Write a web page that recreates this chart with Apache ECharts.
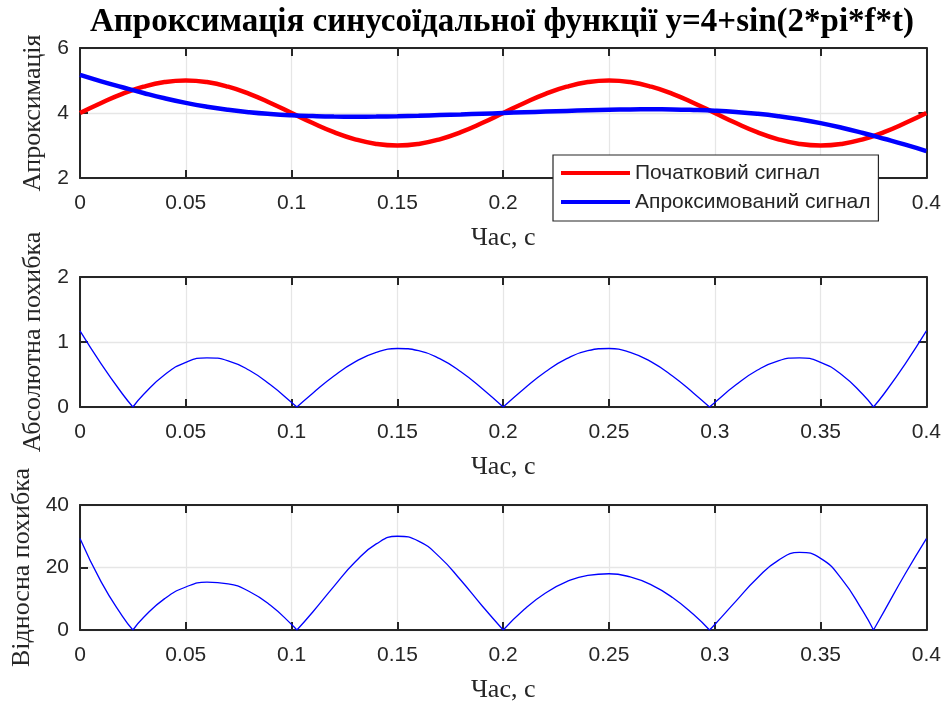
<!DOCTYPE html>
<html><head><meta charset="utf-8">
<script src="https://cdn.jsdelivr.net/npm/echarts@6/dist/echarts.min.js"></script>
<style>html,body{margin:0;padding:0;background:#fff}#c{width:944px;height:704px}</style>
</head><body><div id="c"></div>
<script>
// ---- data ----
const titleText = 'Апроксимація синусоїдальної функції y=4+sin(2*pi*f*t)';
const xName = 'Час, с';
const yNames = ['Апроксимація', 'Абсолютна похибка', 'Відносна похибка'];
const seriesNames = ['Початковий сигнал', 'Апроксимований сигнал'];

const timeS = [0,0.01,0.02,0.03,0.04,0.05,0.06,0.07,0.08,0.09,0.10,0.11,0.12,0.13,0.14,0.15,0.16,0.17,0.18,0.19,0.20,
  0.21,0.22,0.23,0.24,0.25,0.26,0.27,0.28,0.29,0.30,0.31,0.32,0.33,0.34,0.35,0.36,0.37,0.38,0.39,0.40];
const originalSignal = [4,4.309,4.588,4.809,4.951,5,4.951,4.809,4.588,4.309,4,3.691,3.412,3.191,3.049,3,3.049,3.191,3.412,3.691,4,
  4.309,4.588,4.809,4.951,5,4.951,4.809,4.588,4.309,4,3.691,3.412,3.191,3.049,3,3.049,3.191,3.412,3.691,4];
const approxSignal = [5.170,4.973,4.792,4.617,4.454,4.312,4.194,4.098,4.023,3.968,3.929,3.904,3.889,3.885,3.889,3.900,3.916,3.935,3.955,3.977,4.000,
  4.023,4.045,4.065,4.084,4.100,4.111,4.115,4.111,4.096,4.071,4.032,3.977,3.902,3.806,3.688,3.546,3.383,3.208,3.027,2.830];

const errTime = [0,0.01,0.02,0.025,0.03,0.04,0.05,0.06,0.07,0.08,0.09,0.10,0.1025,0.11,0.12,0.13,0.14,0.15,0.16,0.17,0.18,0.19,0.20,
  0.21,0.22,0.23,0.24,0.25,0.26,0.27,0.28,0.29,0.2975,0.30,0.31,0.32,0.33,0.34,0.35,0.36,0.37,0.375,0.38,0.39,0.40];
const absError = [1.170,0.664,0.204,0,0.192,0.497,0.688,0.757,0.711,0.565,0.341,0.071,0,0.213,0.477,0.694,0.840,0.900,0.867,0.744,0.543,0.286,0,
  0.286,0.543,0.744,0.867,0.900,0.840,0.694,0.477,0.213,0,0.071,0.341,0.565,0.711,0.757,0.688,0.497,0.192,0,0.204,0.664,1.170];
const relError = [29.25,15.41,4.45,0,3.99,10.04,13.76,15.29,14.78,12.31,7.91,1.78,0,5.77,13.98,21.75,27.55,30.0,28.44,23.32,15.91,7.75,0,
  6.64,11.84,15.47,17.51,18.0,16.97,14.43,10.40,4.94,0,1.78,9.24,16.56,22.28,24.83,22.93,16.30,6.02,0,5.98,17.99,29.25];

const xRange = [0, 0.4, 0.05];
const yRanges = [[2, 6, 2], [0, 2, 1], [0, 40, 20]];

// ---- chart ----
const SANS = '"Liberation Sans", Arial, Helvetica, sans-serif';
const SERIF = '"Liberation Serif", "Times New Roman", serif';
const AX = '#262626';
const GRIDC = '#e6e6e6';
const grids = [{top: 48, height: 130}, {top: 277, height: 130}, {top: 505, height: 129}];

const pair = (xs, ys) => xs.map((x, i) => [x, ys[i]]);
// break the polyline at every zero (cusp) so the smoothing keeps the cusps sharp
function withBreaks(xs, ys) {
  const out = [];
  xs.forEach((x, i) => {
    out.push([x, ys[i]]);
    if (ys[i] === 0 && i > 0 && i < xs.length - 1) {
      out.push([x, '-']);
      out.push([x, ys[i]]);
    }
  });
  return out;
}

const xAxes = [], yAxes = [];
grids.forEach((g, i) => {
  const line = {show: true, onZero: false, lineStyle: {color: AX, width: 2}};
  const tick = {show: true, inside: true, length: 8, lineStyle: {color: AX, width: 2}};
  xAxes.push({
    type: 'value', gridIndex: i, position: 'bottom', min: xRange[0], max: xRange[1], interval: xRange[2],
    name: xName, nameLocation: 'middle', nameGap: 47,
    nameTextStyle: {fontFamily: SERIF, fontSize: 26, color: AX},
    axisLine: line, axisTick: tick,
    axisLabel: {fontFamily: SANS, fontSize: 21, color: AX, margin: 15, showMinLabel: true, showMaxLabel: true, hideOverlap: false},
    splitLine: {show: true, lineStyle: {color: GRIDC, width: 1.3}}
  });
  xAxes.push({
    type: 'value', gridIndex: i, position: 'top', min: xRange[0], max: xRange[1], interval: xRange[2],
    axisLine: line, axisTick: tick, axisLabel: {show: false}, splitLine: {show: false}
  });
  const yr = yRanges[i];
  yAxes.push({
    type: 'value', gridIndex: i, position: 'left', min: yr[0], max: yr[1], interval: yr[2],
    name: yNames[i], nameLocation: 'middle', nameGap: 33, nameRotate: 90,
    nameTextStyle: {fontFamily: SERIF, fontSize: 26, color: AX},
    axisLine: line, axisTick: tick,
    axisLabel: {fontFamily: SANS, fontSize: 21, color: AX, margin: 11},
    splitLine: {show: true, lineStyle: {color: GRIDC, width: 1.3}}
  });
  yAxes.push({
    type: 'value', gridIndex: i, position: 'right', min: yr[0], max: yr[1], interval: yr[2],
    axisLine: line, axisTick: tick, axisLabel: {show: false}, splitLine: {show: false}
  });
});

const option = {
  animation: false,
  backgroundColor: '#fff',
  title: {
    text: titleText, left: 502, top: 6, textAlign: 'center', padding: 0,
    textStyle: {fontFamily: SERIF, fontSize: 33, fontWeight: 'bold', color: '#000'}
  },
  grid: grids.map(g => ({left: 80, right: 16, top: g.top, height: g.height})),
  xAxis: xAxes,
  yAxis: yAxes,
  legend: {
    data: seriesNames, orient: 'vertical', left: 553, top: 155,
    icon: 'rect', itemWidth: 69, itemHeight: 4, itemGap: 7,
    padding: [7, 8, 8, 8],
    backgroundColor: '#fff', borderColor: AX, borderWidth: 1.2, borderRadius: 0,
    textStyle: {fontFamily: SANS, fontSize: 21, color: AX, lineHeight: 22}
  },
  series: [
    {name: seriesNames[0], type: 'line', xAxisIndex: 0, yAxisIndex: 0, data: pair(timeS, originalSignal),
     smooth: true, showSymbol: false, lineStyle: {color: '#ff0000', width: 4.5}, itemStyle: {color: '#ff0000'}},
    {name: seriesNames[1], type: 'line', xAxisIndex: 0, yAxisIndex: 0, data: pair(timeS, approxSignal),
     smooth: true, showSymbol: false, lineStyle: {color: '#0000ff', width: 4.5}, itemStyle: {color: '#0000ff'}},
    {type: 'line', xAxisIndex: 2, yAxisIndex: 2, data: withBreaks(errTime, absError),
     smooth: 0.5, connectNulls: false, showSymbol: false, lineStyle: {color: '#0000ff', width: 1.3}},
    {type: 'line', xAxisIndex: 4, yAxisIndex: 4, data: withBreaks(errTime, relError),
     smooth: 0.5, connectNulls: false, showSymbol: false, lineStyle: {color: '#0000ff', width: 1.3}}
  ]
};
const chart = echarts.init(document.getElementById('c'), null, {renderer: 'canvas'});
chart.setOption(option);
</script>
</body></html>
